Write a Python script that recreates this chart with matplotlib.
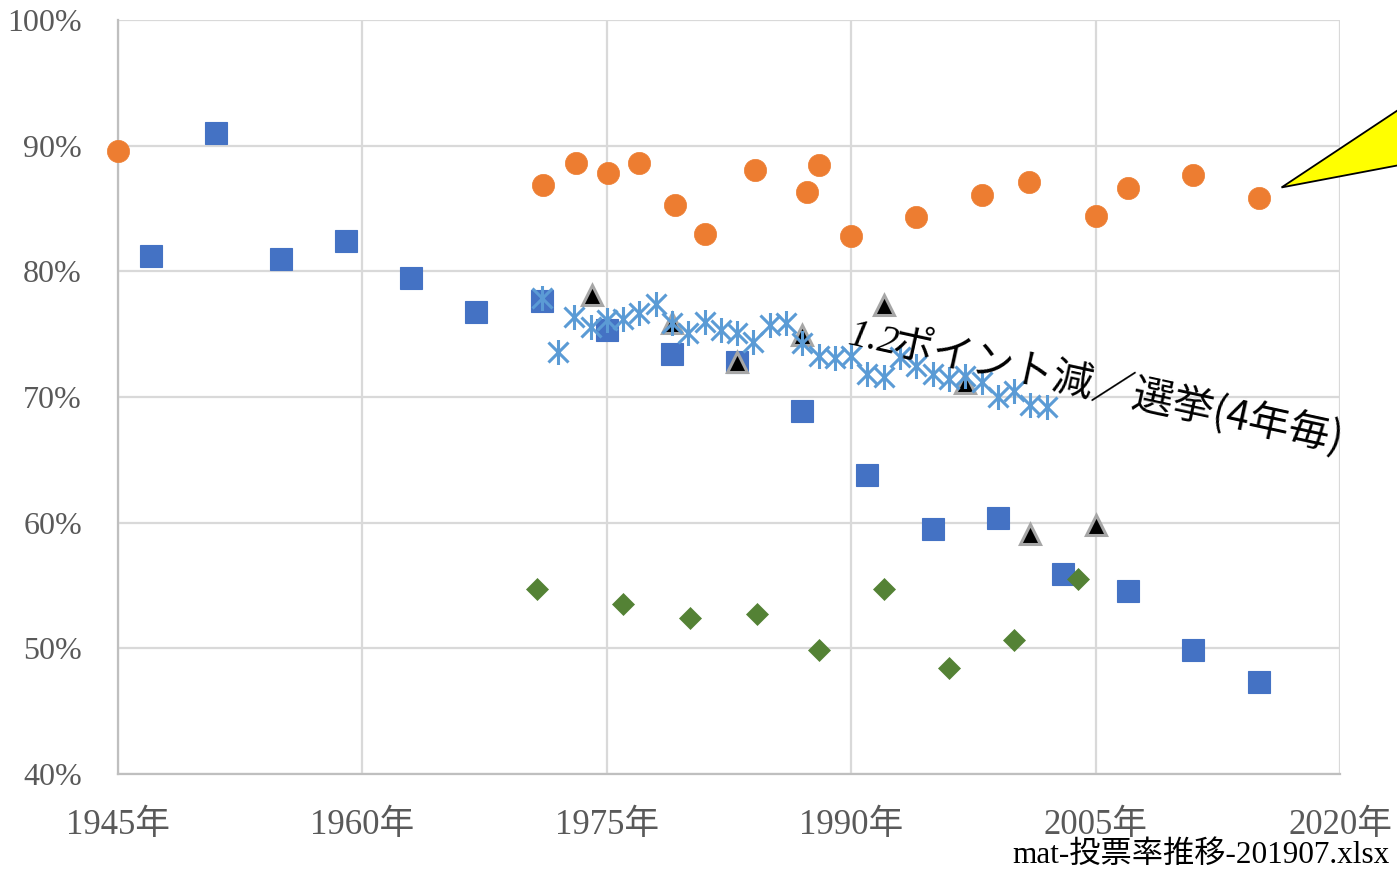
import matplotlib
matplotlib.use("Agg")
import matplotlib.pyplot as plt
import matplotlib.transforms as mtransforms
from matplotlib.patches import Polygon
from matplotlib.path import Path

# ── data ───────────────────────────────────────────────────────────────
sq_years = [1947, 1951, 1955, 1959, 1963, 1967, 1971, 1975, 1979, 1983,
            1987, 1991, 1995, 1999, 2003, 2007, 2011, 2015]
sq_vals = [81.2, 91.0, 81.0, 82.4, 79.5, 76.8, 77.6, 75.3, 73.4, 72.8,
           68.9, 63.8, 59.5, 60.4, 55.9, 54.6, 49.9, 47.3]

circ_years = [1945, 1971.1, 1973.1, 1975.1, 1977.0, 1979.2, 1981.0, 1984.1,
              1987.3, 1988.0, 1990.0, 1994.0, 1998.0, 2000.9, 2005.0,
              2007.0, 2011.0, 2015.0]
circ_vals = [89.6, 86.9, 88.6, 87.8, 88.6, 85.3, 83.0, 88.1,
             86.3, 88.5, 82.8, 84.3, 86.1, 87.1, 84.4,
             86.6, 87.7, 85.8]

dia_years = [1970.7, 1976.0, 1980.1, 1984.2, 1988.0, 1992.0, 1996.0, 2000.0, 2003.9]
dia_vals = [54.7, 53.5, 52.4, 52.7, 49.9, 54.7, 48.4, 50.7, 55.5]

tri_years = [1974.1, 1979.0, 1983.0, 1987.0, 1992.0, 1997.0, 2001.0, 2005.0]
tri_vals = [78.1, 75.9, 72.8, 74.9, 77.3, 71.1, 59.1, 59.8]

star_years = list(range(1971, 2003))
star_vals = [77.9, 73.6, 76.4, 75.6, 76.1, 76.2, 76.7, 77.4, 75.9, 75.1,
             76.0, 75.3, 75.1, 74.4, 75.7, 75.9, 74.3, 73.3, 73.1, 73.3,
             71.8, 71.6, 73.2, 72.5, 71.8, 71.4, 71.7, 71.2, 70.0, 70.5,
             69.4, 69.2]

x_ticks = [1945, 1960, 1975, 1990, 2005, 2020]
x_ticklabels = [f"{y}年" for y in x_ticks]
y_ticks = [40, 50, 60, 70, 80, 90, 100]
y_ticklabels = [f"{v}%" for v in y_ticks]

annot_num = "1.2"
annot_text = "ポイント減／選挙(4年毎)"
footer = "mat-投票率推移-201907.xlsx"

# ── styling ───────────────────────────────────────────────────────────
BLUE_SQ = "#4472C4"
ORANGE = "#ED7D31"
GREEN = "#548235"
LIGHT_BLUE = "#5B9BD5"
GRID = "#D9D9D9"
TICK_COLOR = "#595959"
LATIN_CJK = ["Liberation Serif", "Noto Sans CJK JP"]

# Excel-style "star" marker: an X with a vertical bar
star_marker = Path(
    [(-0.8, -0.8), (0.8, 0.8), (-0.8, 0.8), (0.8, -0.8), (0, -1), (0, 1)],
    [Path.MOVETO, Path.LINETO, Path.MOVETO, Path.LINETO, Path.MOVETO, Path.LINETO],
)

fig = plt.figure(figsize=(13.97, 8.71), dpi=100)
ax = fig.add_axes([118 / 1397, 1 - 774 / 871, (1340 - 118) / 1397, (774 - 20) / 871])

ax.set_xlim(1945, 2020)
ax.set_ylim(40, 100)

ax.plot(sq_years, sq_vals, ls="none", marker="s", ms=15.5, color=BLUE_SQ,
        mec=BLUE_SQ, mew=0.8, zorder=3, clip_on=False)
ax.plot(circ_years, circ_vals, ls="none", marker="o", ms=16, color=ORANGE,
        mec=ORANGE, mew=0.5, zorder=3, clip_on=False)
ax.plot(tri_years, tri_vals, ls="none", marker="^", ms=14.5, color="black",
        mec="#A6A6A6", mew=2.2, zorder=4, clip_on=False)
ax.plot(dia_years, dia_vals, ls="none", marker="D", ms=11.5, color=GREEN,
        mec=GREEN, mew=0.5, zorder=5, clip_on=False)
ax.plot(star_years, star_vals, ls="none", marker=star_marker, ms=18,
        mfc="none", mec=LIGHT_BLUE, mew=2.2, zorder=6, clip_on=False)

# grid / spines / ticks
ax.set_xticks(x_ticks)
ax.set_xticklabels(x_ticklabels)
ax.set_yticks(y_ticks)
ax.set_yticklabels(y_ticklabels)
ax.grid(True, color=GRID, lw=1.6, zorder=0)
ax.set_axisbelow(True)
for side in ["top", "right"]:
    ax.spines[side].set_visible(False)
for side in ["left", "bottom"]:
    ax.spines[side].set_color("#BFBFBF")
    ax.spines[side].set_linewidth(1.6)
ax.tick_params(axis="both", length=0, colors=TICK_COLOR)
ax.tick_params(axis="x", pad=25, labelsize=25)
ax.tick_params(axis="y", pad=26, labelsize=23)
for lbl in ax.get_xticklabels() + ax.get_yticklabels():
    lbl.set_family(LATIN_CJK)

# rotated annotation "1.2ポイント減／選挙(4年毎)"
angle = -12.3
ax.text(1989.7, 74.2, annot_num, rotation=angle, rotation_mode="anchor",
        ha="left", va="baseline", fontsize=29, family="Liberation Serif",
        style="italic", color="black", zorder=7)
ax.annotate(annot_text, xy=(1989.7, 74.2), xytext=(31.5, -6.9),
            textcoords="offset points", rotation=angle, rotation_mode="anchor",
            ha="left", va="baseline", fontsize=29.5, family="Noto Sans CJK JP",
            color="black", zorder=7)

# yellow callout pointer, anchored to the last orange point (pixel offsets)
anchor = mtransforms.ScaledTranslation(circ_years[-1], circ_vals[-1], ax.transData)
poly_tr = mtransforms.Affine2D() + anchor
callout = Polygon([(23, 11), (276, 179), (276, 59)], closed=True,
                  facecolor="#FFFF00", edgecolor="black", lw=1.3,
                  transform=poly_tr, clip_on=False, zorder=8)
ax.add_patch(callout)

fig.text(1390 / 1397, 1 - 863 / 871, footer, ha="right", va="baseline",
         fontsize=22.5, family=LATIN_CJK, color="black")

fig.savefig("out.png", dpi=100)
